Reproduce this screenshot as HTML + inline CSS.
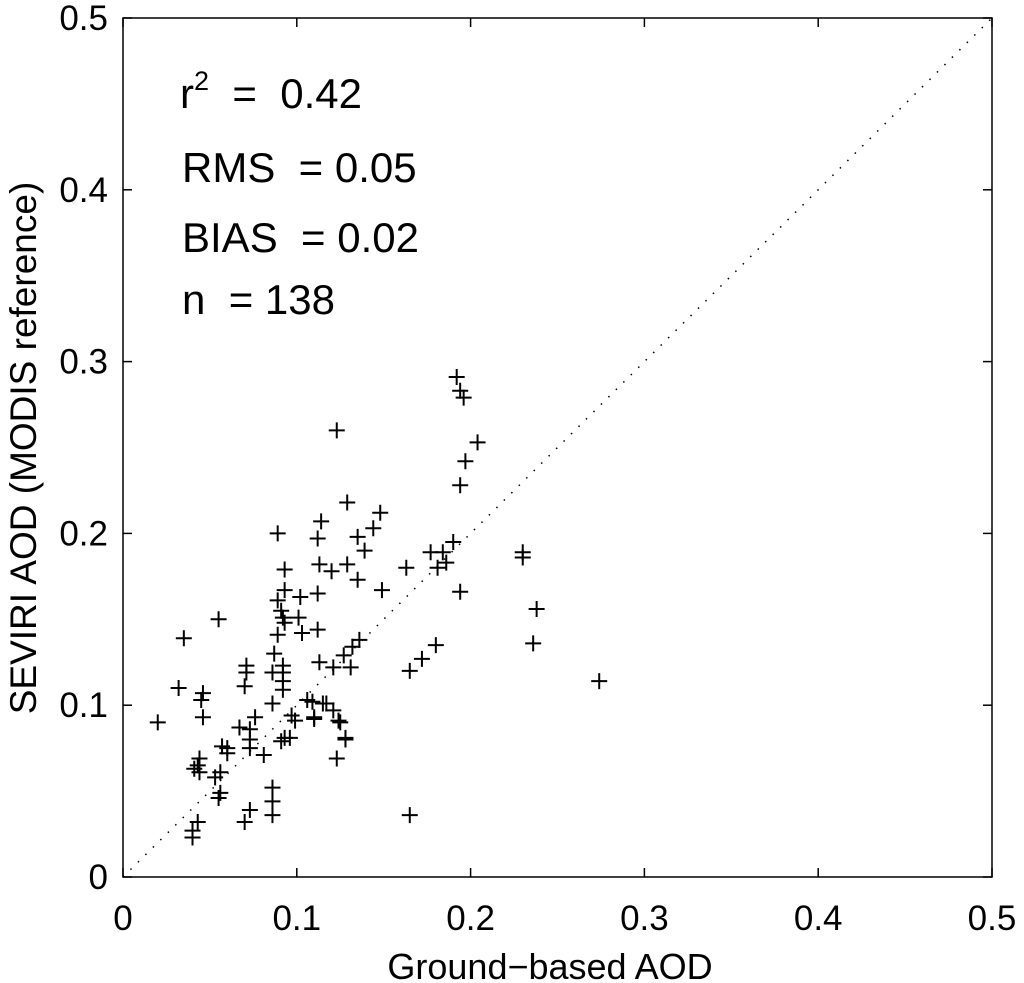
<!DOCTYPE html>
<html><head><meta charset="utf-8"><style>
html,body{margin:0;padding:0;background:#fff;width:1024px;height:983px;overflow:hidden}
svg text{font-family:"Liberation Sans",sans-serif;fill:#000}
</style></head><body>
<svg id="chart" width="1024" height="983" viewBox="0 0 1024 983" xmlns="http://www.w3.org/2000/svg">
<g id="axes"></g>
<g id="marks"></g>
<text x="180" y="108" font-size="42">r<tspan dy="-18" font-size="27">2</tspan><tspan dy="18"> &#160;= &#160;0.42</tspan></text>
<text x="182" y="182" font-size="42">RMS &#160;= 0.05</text>
<text x="182" y="252" font-size="42">BIAS &#160;= 0.02</text>
<text x="182" y="314" font-size="42">n &#160;= 138</text>
<text x="550" y="979" font-size="36" text-anchor="middle">Ground−based AOD</text>
<text transform="translate(36,448) rotate(-90)" font-size="37" text-anchor="middle">SEVIRI AOD (MODIS reference)</text>
</svg>
<script>
const xTicks=[0,0.1,0.2,0.3,0.4,0.5];
const yTicks=[0,0.1,0.2,0.3,0.4,0.5];
const tickLabels=["0","0.1","0.2","0.3","0.4","0.5"];
const groundAOD=[.089,.114,.112,.129,.148,.144,.135,.139,.093,.113,.120,.129,.135,.149,.093,.089,.102,.112,.091,.092,.093,.101,.089,.103,.112,.055,.035,.087,.071,.071,.070,.092,.086,.092,.092,.092,.113,.121,.131,.127,.132,.136,.032,.046,.045,.046,.020,.086,.076,.106,.109,.117,.121,.110,.097,.099,.125,.128,.123,.093,.096,.091,.067,.073,.073,.073,.081,.057,.060,.060,.044,.043,.041,.044,.056,.053,.056,.055,.086,.086,.086,.073,.070,.043,.040,.040,.163,.177,.181,.184,.186,.190,.194,.230,.230,.238,.236,.274,.165,.180,.172,.165,.194,.197,.204,.192,.194,.196,.123,.115,.110,.124,.128];
const seviriAOD=[.200,.207,.197,.218,.212,.203,.198,.190,.179,.182,.178,.182,.173,.167,.167,.161,.163,.165,.155,.151,.148,.151,.141,.142,.144,.150,.139,.130,.123,.119,.111,.123,.119,.119,.114,.109,.125,.122,.122,.129,.134,.138,.110,.107,.103,.093,.090,.101,.093,.103,.102,.101,.097,.092,.094,.091,.090,.081,.069,.081,.081,.079,.087,.086,.080,.075,.071,.076,.075,.072,.069,.065,.063,.061,.061,.058,.049,.046,.052,.044,.036,.039,.032,.032,.027,.023,.180,.189,.180,.189,.183,.195,.166,.189,.186,.156,.136,.114,.036,.135,.127,.120,.228,.242,.253,.291,.283,.279,.260,.101,.093,.091,.080];
const X0=123,X1=992,Y0=877,Y1=18;
const sx=v=>X0+(X1-X0)*v/0.5, sy=v=>Y0-(Y0-Y1)*v/0.5;
const NS="http://www.w3.org/2000/svg";
const axes=document.getElementById('axes'), marks=document.getElementById('marks');
function mk(tag,attrs,parent){const e=document.createElementNS(NS,tag);for(const k in attrs)e.setAttribute(k,attrs[k]);parent.appendChild(e);return e;}
const frame=mk('rect',{x:X0,y:Y1,width:X1-X0,height:Y0-Y1,fill:'none',stroke:'#000','stroke-width':1.5},axes);


const diag=mk('line',{x1:sx(0),y1:sy(0),x2:sx(0.5),y2:sy(0.5),stroke:'#000','stroke-width':1.5,'stroke-dasharray':'1.5 9'},axes);


xTicks.forEach((v,i)=>{
  const x=sx(v);
  const t1=mk('line',{x1:x,y1:Y0,x2:x,y2:Y0-9,stroke:'#000','stroke-width':1.5},axes);
  
  
  const t2=mk('line',{x1:x,y1:Y1,x2:x,y2:Y1+9,stroke:'#000','stroke-width':1.5},axes);
  
  
  const l=mk('text',{x:x,y:930,'font-size':35,'text-anchor':'middle'},axes);
  l.textContent=tickLabels[i];
  
  
});
yTicks.forEach((v,i)=>{
  const y=sy(v);
  const t1=mk('line',{x1:X0,y1:y,x2:X0+9,y2:y,stroke:'#000','stroke-width':1.5},axes);
  
  
  const t2=mk('line',{x1:X1,y1:y,x2:X1-9,y2:y,stroke:'#000','stroke-width':1.5},axes);
  
  
  const l=mk('text',{x:108,y:y+12,'font-size':35,'text-anchor':'end'},axes);
  l.textContent=tickLabels[i];
  
  
});
groundAOD.forEach((gx,i)=>{
  const x=sx(gx), y=sy(seviriAOD[i]);
  const p=mk('path',{d:`M${x-8},${y}H${x+8}M${x},${y-8}V${y+8}`,stroke:'#000','stroke-width':2,fill:'none'},marks);
  
  
});
</script>
</body></html>
